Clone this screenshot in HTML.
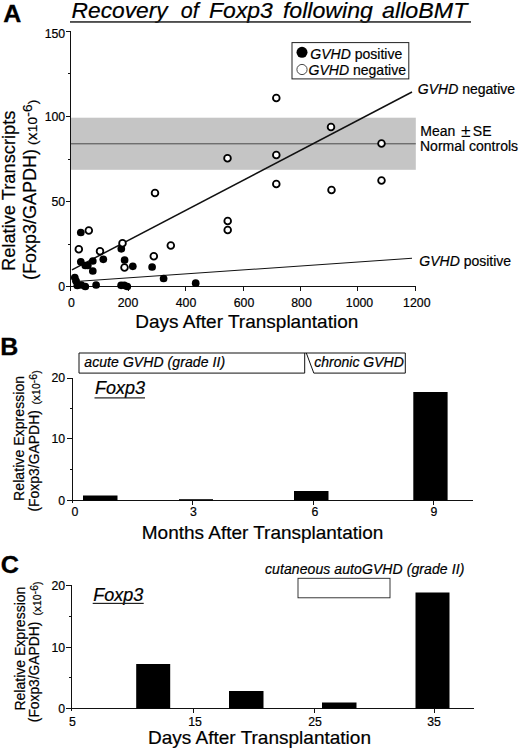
<!DOCTYPE html>
<html><head><meta charset="utf-8">
<style>
html,body{margin:0;padding:0;background:#fff;}
svg{display:block;font-family:"Liberation Sans",sans-serif;fill:#000;}
text{stroke:#000;stroke-width:0.2px;}
.ax{stroke:#111;stroke-width:1;fill:none;shape-rendering:crispEdges;}
.ln{stroke:#111;stroke-width:1.5;fill:none;}
.f{fill:#000;stroke:none;}
.o{fill:#fff;stroke:#000;stroke-width:1.8;}
.t12{font-size:12.3px;}
.t14{font-size:14px;}
.i{font-style:italic;}
.xl{font-size:19px;}
</style></head>
<body>
<svg width="520" height="750" viewBox="0 0 520 750">
<rect width="520" height="750" fill="#fff"/>

<!-- ===== Panel A ===== -->
<text transform="translate(3.2,21.8) scale(1.04,1)" font-size="24" font-weight="bold" style="stroke-width:0.3px">A</text>
<g font-size="22.9" class="i" stroke="#000" stroke-width="0.3"><text x="71.6" y="18.4" textLength="96.0" lengthAdjust="spacingAndGlyphs">Recovery</text><text x="180.8" y="18.4" textLength="17.9" lengthAdjust="spacingAndGlyphs">of</text><text x="209.1" y="18.4" textLength="63.8" lengthAdjust="spacingAndGlyphs">Foxp3</text><text x="282.9" y="18.4" textLength="90.0" lengthAdjust="spacingAndGlyphs">following</text><text x="382.1" y="18.4" textLength="85.3" lengthAdjust="spacingAndGlyphs">alloBMT</text></g>
<rect x="70" y="21.2" width="401" height="1.5" fill="#222"/>

<rect x="71" y="117.7" width="344.8" height="52.1" fill="#c5c5c5"/>
<line x1="71" y1="143.8" x2="415.8" y2="143.8" stroke="#4a4a4a" stroke-width="1"/>

<!-- axes A -->
<path class="ax" d="M70.5 31.5V287.5 M66 31.5H71 M66 116.5H71 M66 201.5H71 M66 286.5H415.5 M68 73.5H71 M68 159.5H71 M68 244.5H71"/>
<path class="ax" d="M70.5 287V291 M128.5 287V291 M185.5 287V291 M243.5 287V291 M300.5 287V291 M357.5 287V291 M415 287V291"/>
<g class="t12" text-anchor="end">
<text x="65.2" y="37.5">150</text>
<text x="65.2" y="121">100</text>
<text x="65.2" y="206">50</text>
<text x="65.2" y="291">0</text>
</g>
<g class="t12" text-anchor="middle">
<text x="71.5" y="306.5">0</text>
<text x="128" y="306.5">200</text>
<text x="186" y="306.5">400</text>
<text x="244" y="306.5">600</text>
<text x="301.5" y="306.5">800</text>
<text x="359.5" y="306.5">1000</text>
<text x="416.8" y="306.5">1200</text>
</g>
<text class="xl" x="135.3" y="327.6" textLength="223">Days After Transplantation</text>
<text id="a1" font-size="18.3" transform="translate(15,271) rotate(-90)" textLength="160.5">Relative Transcripts</text>
<text id="a2" font-size="18" transform="translate(35.8,280) rotate(-90)" textLength="131">(Foxp3/GAPDH)</text>
<text id="a3" font-size="13.6" transform="translate(36.5,145) rotate(-90)" textLength="45.3" stroke="#000" stroke-width="0.3">(<tspan font-size="15.5">x</tspan>10<tspan dy="-4.2">-6</tspan><tspan dy="4.2">)</tspan></text>

<!-- regression lines -->
<line class="ln" x1="72" y1="269.8" x2="412" y2="92"/>
<line class="ln" x1="72" y1="281.7" x2="412" y2="258.3" style="stroke-width:1.05"/>

<!-- filled points -->
<g class="f">
<circle cx="80.8" cy="232.5" r="3.85"/>
<circle cx="80.8" cy="261.8" r="3.85"/>
<circle cx="85.3" cy="265.5" r="3.85"/>
<circle cx="87.8" cy="265.5" r="3.85"/>
<circle cx="92.8" cy="261.0" r="3.85"/>
<circle cx="92.8" cy="271.0" r="3.85"/>
<circle cx="103.3" cy="259.3" r="3.85"/>
<circle cx="121.3" cy="248.8" r="3.85"/>
<circle cx="124.6" cy="260.0" r="3.85"/>
<circle cx="132.8" cy="266.3" r="3.85"/>
<circle cx="152.1" cy="267.0" r="3.85"/>
<circle cx="163.6" cy="278.5" r="3.85"/>
<circle cx="74.8" cy="277.5" r="3.85"/>
<circle cx="76.1" cy="281.0" r="3.85"/>
<circle cx="77.3" cy="285.5" r="3.85"/>
<circle cx="81.3" cy="285.0" r="3.85"/>
<circle cx="85.3" cy="286.5" r="3.85"/>
<circle cx="96.1" cy="285.0" r="3.85"/>
<circle cx="121.1" cy="285.3" r="3.85"/>
<circle cx="124.3" cy="285.3" r="3.85"/>
<circle cx="127.3" cy="286.5" r="3.85"/>
<circle cx="195.7" cy="283.2" r="3.85"/>
</g>
<!-- open points -->
<g class="o">
<circle cx="88.8" cy="230.5" r="3.35"/>
<circle cx="78.8" cy="249.3" r="3.35"/>
<circle cx="100" cy="251.3" r="3.35"/>
<circle cx="122.5" cy="243.3" r="3.35"/>
<circle cx="124.5" cy="267.5" r="3.35"/>
<circle cx="153.8" cy="256.3" r="3.35"/>
<circle cx="170.8" cy="245.5" r="3.35"/>
<circle cx="227.7" cy="221" r="3.35"/>
<circle cx="227.7" cy="230" r="3.35"/>
<circle cx="155" cy="193" r="3.35"/>
<circle cx="227.5" cy="158.3" r="3.35"/>
<circle cx="276.3" cy="98" r="3.35"/>
<circle cx="276.3" cy="155" r="3.35"/>
<circle cx="276.3" cy="184" r="3.35"/>
<circle cx="331" cy="127" r="3.35"/>
<circle cx="331.5" cy="190" r="3.35"/>
<circle cx="381.5" cy="143.5" r="3.35"/>
<circle cx="381.5" cy="180.5" r="3.35"/>
</g>

<!-- legend -->
<rect x="292" y="42.6" width="116.8" height="36.3" fill="#fff" stroke="#222" stroke-width="1"/>
<circle cx="302" cy="52.3" r="5.5" fill="#000"/>
<circle cx="302" cy="69.5" r="5.1" fill="#fff" stroke="#333" stroke-width="0.9"/>
<text font-size="14.8" x="310.3" y="58.6" textLength="92" lengthAdjust="spacingAndGlyphs"><tspan class="i">GVHD</tspan> positive</text>
<text font-size="14.8" x="308.5" y="75.1" textLength="97.5" lengthAdjust="spacingAndGlyphs"><tspan class="i">GVHD</tspan> negative</text>

<text class="t14" x="417.8" y="93.6"><tspan class="i">GVHD</tspan> negative</text>
<text class="t14" x="419.3" y="266.3"><tspan class="i">GVHD</tspan> positive</text>
<text class="t14" x="420.3" y="136">Mean <tspan dx="1.8" font-size="17.5" dy="0.5" style="stroke-width:0">±</tspan><tspan dx="2.2" dy="-0.5">SE</tspan></text>
<text class="t14" x="420" y="151">Normal controls</text>

<!-- ===== Panel B ===== -->
<text transform="translate(0.2,354.6) scale(1.04,1)" font-size="24" font-weight="bold" style="stroke-width:0.3px">B</text>
<path d="M306.5 353H79V373.1H304.7V353" fill="none" stroke="#111" stroke-width="1"/>
<path d="M306.3 353H405.3V373.1H313.8Z" fill="none" stroke="#111" stroke-width="1"/>
<text class="t14 i" x="84.3" y="367.4" textLength="140.8">acute GVHD (grade II)</text>
<text class="t14 i" x="314.3" y="367.2" textLength="89.5">chronic GVHD</text>
<text class="i" font-size="18" x="95" y="394.3" stroke="#000" stroke-width="0.25">Foxp3</text>
<rect x="94.5" y="397.3" width="50.5" height="1.2" fill="#222"/>

<path class="ax" d="M72.5 378V503 M67 378.5H72.5 M67 438.5H72.5 M67 500.5H473 M69.5 408.5H72.5 M69.5 469.5H72.5 M192.5 500V504.5 M313.5 500V504.5 M433.5 500V504.5"/>
<g class="t12" text-anchor="end">
<text x="65.2" y="381.9">20</text>
<text x="65.2" y="443">10</text>
<text x="65.2" y="504.5">0</text>
</g>
<g class="t12" text-anchor="middle">
<text x="75" y="516.2">0</text>
<text x="193.3" y="516.2">3</text>
<text x="315" y="516.2">6</text>
<text x="434" y="516.2">9</text>
</g>
<g class="f">
<rect x="83" y="495.5" width="34.5" height="5"/>
<rect x="179" y="499.2" width="34" height="1.3"/>
<rect x="294" y="491" width="34.5" height="9.5"/>
<rect x="413.3" y="392" width="34.3" height="108.5"/>
</g>
<text class="xl" x="141.8" y="539" textLength="241.5">Months After Transplantation</text>
<text id="b1" font-size="14" transform="translate(24,500.9) rotate(-90)" textLength="125">Relative Expression</text>
<text id="b2" font-size="13.9" transform="translate(38.5,511.6) rotate(-90)" textLength="101.5">(Foxp3/GAPDH)</text>
<text id="b3" font-size="10.4" transform="translate(40.2,404.4) rotate(-90)" textLength="34" stroke="#000" stroke-width="0.25">(<tspan font-size="11.8">x</tspan>10<tspan dy="-3.2">-6</tspan><tspan dy="3.2">)</tspan></text>

<!-- ===== Panel C ===== -->
<text transform="translate(0.7,572.5) scale(1.05,1)" font-size="24" font-weight="bold" style="stroke-width:0.3px">C</text>
<text class="t14 i" x="265" y="573.6" textLength="199.3">cutaneous autoGVHD (grade II)</text>
<rect x="298" y="578.3" width="92" height="19.5" fill="#fff" stroke="#222" stroke-width="0.9"/>
<text class="i" font-size="18" x="93.3" y="601" stroke="#000" stroke-width="0.25">Foxp3</text>
<rect x="92.7" y="602.8" width="51" height="1.2" fill="#222"/>

<path class="ax" d="M71.5 585V711 M66 585.5H72 M66 647.5H72 M66 708.5H474 M68.5 616.5H72 M68.5 677.5H72 M193.5 708V713 M314.5 708V713 M434.5 708V713"/>
<g class="t12" text-anchor="end">
<text x="65.2" y="589.5">20</text>
<text x="65.2" y="651.5">10</text>
<text x="65.2" y="712.5">0</text>
</g>
<g class="t12" text-anchor="middle">
<text x="72.5" y="725.6">5</text>
<text x="195" y="725.6">15</text>
<text x="315" y="725.6">25</text>
<text x="434" y="725.6">35</text>
</g>
<g class="f">
<rect x="136.2" y="664" width="34" height="44.5"/>
<rect x="229" y="691" width="34.5" height="17.5"/>
<rect x="322" y="702.5" width="34.5" height="6"/>
<rect x="415.5" y="592.5" width="34" height="116"/>
</g>
<text class="xl" x="148" y="744.4" textLength="223">Days After Transplantation</text>
<text id="c1" font-size="14" transform="translate(24.5,710.6) rotate(-90)" textLength="124">Relative Expression</text>
<text id="c2" font-size="13.9" transform="translate(39.4,722.2) rotate(-90)" textLength="100.5">(Foxp3/GAPDH)</text>
<text id="c3" font-size="10.4" transform="translate(40.8,615.5) rotate(-90)" textLength="34" stroke="#000" stroke-width="0.25">(<tspan font-size="11.8">x</tspan>10<tspan dy="-3.2">-6</tspan><tspan dy="3.2">)</tspan></text>
</svg>
</body></html>
